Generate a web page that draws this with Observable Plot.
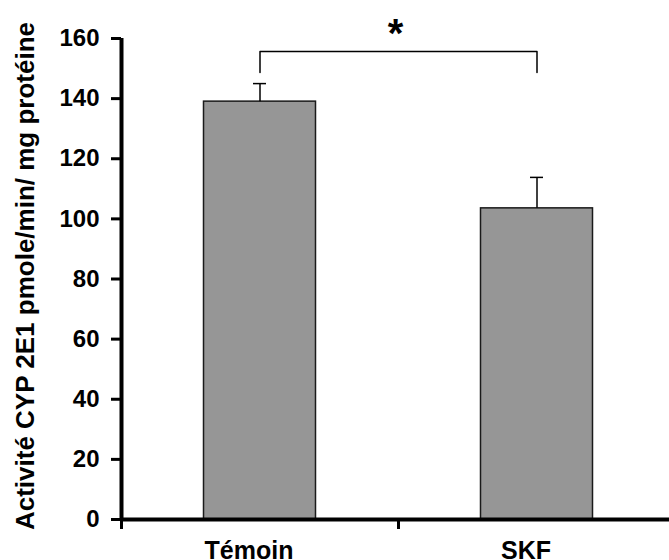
<!DOCTYPE html>
<html><head><meta charset="utf-8">
<script src="https://cdn.jsdelivr.net/npm/d3@7"></script>
<script src="https://cdn.jsdelivr.net/npm/@observablehq/plot@0.6"></script>
<style>body{margin:0;background:#fff}</style>
</head><body><div id="chart"></div>
<script>
// ---- data ----
const categories = ["Témoin", "SKF"];
const means = [139, 103.5];
const sems = [6, 10.3];
const yTicks = [0, 20, 40, 60, 80, 100, 120, 140, 160];
const yLabel = "Activité CYP 2E1 pmole/min/ mg protéine";
const significance = "*";
const bracketLevels = [148.7, 155.7]; // bracket foot, bracket top
const starLevel = [166.5];

const data = categories.map((c, i) => ({cat: c, mean: means[i], hi: means[i] + sems[i]}));
const bracket = [
  {cat: categories[0], v: bracketLevels[0]},
  {cat: categories[0], v: bracketLevels[1]},
  {cat: categories[1], v: bracketLevels[1]},
  {cat: categories[1], v: bracketLevels[0]}
];

// ---- layout ----
const W = 669, H = 560, ML = 121, MR = 0, MT = 38, MB = 41;
const xRange = [ML, 675];
const bw = (xRange[1] - xRange[0]) / categories.length;
const barW = 112, capW = 13;
const font = "'Liberation Sans', Arial, Helvetica, sans-serif";

const chart = Plot.plot({
  width: W, height: H,
  marginLeft: ML, marginRight: MR, marginTop: MT, marginBottom: MB,
  style: {fontFamily: font, fontWeight: "bold", color: "#000", background: "#fff", overflow: "visible"},
  x: {type: "band", domain: categories, range: xRange, padding: 0, axis: null},
  y: {domain: [0, 160], axis: null},
  marks: [
    Plot.barY(data, {x: "cat", y: "mean", fill: "#969696", stroke: "#1a1a1a", strokeWidth: 1.5,
      insetLeft: (bw - barW) / 2, insetRight: (bw - barW) / 2}),
    Plot.ruleX(data, {x: "cat", y1: "mean", y2: "hi", stroke: "#000", strokeWidth: 1.5}),
    Plot.tickY(data, {x: "cat", y: "hi", stroke: "#000", strokeWidth: 1.5,
      insetLeft: (bw - capW) / 2, insetRight: (bw - capW) / 2}),
    Plot.line(bracket, {x: "cat", y: "v", stroke: "#000", strokeWidth: 1.5}),
    Plot.text(starLevel, {y: d => d, text: () => significance, fontSize: 40, fontWeight: "bold", lineAnchor: "top"}),
    // axis lines
    Plot.ruleY([0], {stroke: "#000", strokeWidth: 4}),
    Plot.ruleX([categories[0]], {x: d => d, y1: 0, y2: 160, dx: -bw / 2, stroke: "#000", strokeWidth: 4}),
    // x boundary ticks
    Plot.axisX({ticks: categories, tickSize: 10, tickFormat: () => "", strokeWidth: 3, dx: -bw / 2, label: null}),
    // x labels
    Plot.axisX({ticks: categories, tickSize: 0, tickPadding: 22, fontSize: 25, fontWeight: "bold", dx: -11, label: null}),
    // y axis
    Plot.axisY({ticks: yTicks, tickSize: 10, tickPadding: 12, strokeWidth: 3, fontSize: 24, fontWeight: "bold", label: null}),
    Plot.text([yLabel], {frameAnchor: "left", rotate: -90, dx: -96, dy: -3, fontSize: 26, fontWeight: "bold",
      textAnchor: "middle", lineAnchor: "middle"})
  ]
});
document.getElementById("chart").appendChild(chart);
</script>
</body></html>
